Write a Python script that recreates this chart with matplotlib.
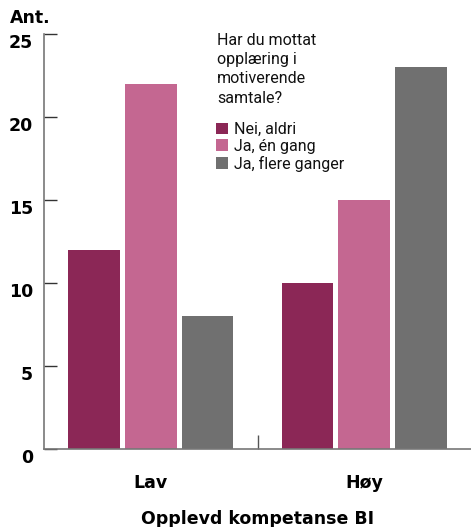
import matplotlib.pyplot as plt
import numpy as np

groups = ["Lav", "Høy"]
series_labels = ["Nei, aldri", "Ja, én gang", "Ja, flere ganger"]
nei_aldri = [12, 10]
ja_en_gang = [22, 15]
ja_flere = [8, 23]
colors = ["#8B2756", "#C46791", "#707070"]
y_ticks = [0, 5, 10, 15, 20, 25]

plt.rcParams["font.family"] = ["Roboto", "DejaVu Sans"]
bold_font = dict(family="DejaVu Sans", fontweight="bold", fontsize=12.5)

fig = plt.figure(figsize=(4.71, 5.27), dpi=100)
ax = fig.add_axes([44 / 471, 1 - 449 / 527, 1 - 44 / 471, (449 - 34) / 527])

x = np.arange(len(groups))
width = 0.243
step = 0.266
for i, (vals, lab, col) in enumerate(zip([nei_aldri, ja_en_gang, ja_flere], series_labels, colors)):
    ax.bar(x + (i - 1) * step, vals, width=width, color=col, label=lab, zorder=2)

ax.set_xlim(-0.5, 1.5)
ax.set_ylim(0, 25)

for s in ["top", "right"]:
    ax.spines[s].set_visible(False)
for s in ["left", "bottom"]:
    ax.spines[s].set_color("#777777")
    ax.spines[s].set_linewidth(1.2)

ax.set_yticks(y_ticks)
ax.set_yticklabels([str(v) for v in y_ticks], **bold_font)
ax.tick_params(axis="y", direction="in", length=9, width=1, color="#333333", pad=8)
for lbl in ax.get_yticklabels():
    lbl.set_verticalalignment("top")

ax.set_xticks([0.5], minor=True)
ax.set_xticks(x)
ax.set_xticklabels(groups, **bold_font)
ax.tick_params(axis="x", which="major", length=0, pad=18)
ax.tick_params(axis="x", which="minor", direction="in", length=10, width=1, color="#555555")

ax.set_xlabel("Opplevd kompetanse BI", labelpad=13, **bold_font)

fig.text(10 / 471, 1 - 18 / 527, "Ant.", va="center", ha="left", **bold_font)

fig.text(217 / 471, 1 - 33 / 527, "Har du mottat\nopplæring i\nmotiverende\nsamtale?",
         fontsize=11.5, va="top", ha="left", linespacing=1.35, color="#111111")

leg = ax.legend(loc="upper left", bbox_to_anchor=((216 - 44) / 427, (449 - 122) / 415),
                frameon=False, fontsize=11.5, handlelength=0.75, handleheight=0.75,
                handletextpad=0.35, labelspacing=0.12, borderaxespad=0, borderpad=0)
for t in leg.get_texts():
    t.set_color("#111111")

fig.savefig("out.png", dpi=100)
